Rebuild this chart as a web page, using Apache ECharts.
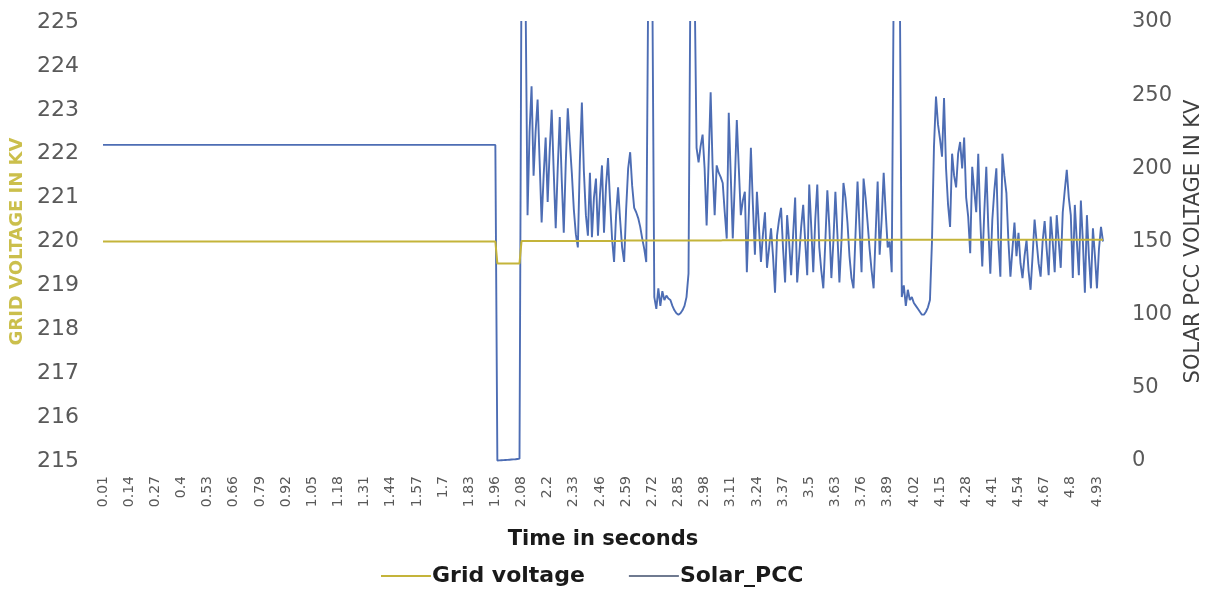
<!DOCTYPE html>
<html>
<head>
<meta charset="utf-8">
<script src="https://cdn.jsdelivr.net/npm/echarts@6/dist/echarts.min.js"></script>
<style>
html,body{margin:0;padding:0;background:#fff;}
#chart{width:1215px;height:592px;}
</style>
</head>
<body>
<div id="chart"></div>
<script>
// Time categories (seconds), as listed on the sheet (two repeated stamps near the fault)
var timeValues = [
0.01,0.02,0.03,0.04,0.05,0.06,0.07,0.08,0.09,0.1,
0.11,0.12,0.13,0.14,0.15,0.16,0.17,0.18,0.19,0.2,
0.21,0.22,0.23,0.24,0.25,0.26,0.27,0.28,0.29,0.3,
0.31,0.32,0.33,0.34,0.35,0.36,0.37,0.38,0.39,0.4,
0.41,0.42,0.43,0.44,0.45,0.46,0.47,0.48,0.49,0.5,
0.51,0.52,0.53,0.54,0.55,0.56,0.57,0.58,0.59,0.6,
0.61,0.62,0.63,0.64,0.65,0.66,0.67,0.68,0.69,0.7,
0.71,0.72,0.73,0.74,0.75,0.76,0.77,0.78,0.79,0.8,
0.81,0.82,0.83,0.84,0.85,0.86,0.87,0.88,0.89,0.9,
0.91,0.92,0.93,0.94,0.95,0.96,0.97,0.98,0.99,1,
1.01,1.02,1.03,1.04,1.05,1.06,1.07,1.08,1.09,1.1,
1.11,1.12,1.13,1.14,1.15,1.16,1.17,1.18,1.19,1.2,
1.21,1.22,1.23,1.24,1.25,1.26,1.27,1.28,1.29,1.3,
1.31,1.32,1.33,1.34,1.35,1.36,1.37,1.38,1.39,1.4,
1.41,1.42,1.43,1.44,1.45,1.46,1.47,1.48,1.49,1.5,
1.51,1.52,1.53,1.54,1.55,1.56,1.57,1.58,1.59,1.6,
1.61,1.62,1.63,1.64,1.65,1.66,1.67,1.68,1.69,1.7,
1.71,1.72,1.73,1.74,1.75,1.76,1.77,1.78,1.79,1.8,
1.81,1.82,1.83,1.84,1.85,1.86,1.87,1.88,1.89,1.9,
1.91,1.92,1.93,1.94,1.95,1.96,1.97,1.98,1.99,2,
2,2.01,2.02,2.03,2.04,2.05,2.06,2.07,2.08,2.09,
2.1,2.1,2.11,2.12,2.13,2.14,2.15,2.16,2.17,2.18,
2.19,2.2,2.21,2.22,2.23,2.24,2.25,2.26,2.27,2.28,
2.29,2.3,2.31,2.32,2.33,2.34,2.35,2.36,2.37,2.38,
2.39,2.4,2.41,2.42,2.43,2.44,2.45,2.46,2.47,2.48,
2.49,2.5,2.51,2.52,2.53,2.54,2.55,2.56,2.57,2.58,
2.59,2.6,2.61,2.62,2.63,2.64,2.65,2.66,2.67,2.68,
2.69,2.7,2.71,2.72,2.73,2.74,2.75,2.76,2.77,2.78,
2.79,2.8,2.81,2.82,2.83,2.84,2.85,2.86,2.87,2.88,
2.89,2.9,2.91,2.92,2.93,2.94,2.95,2.96,2.97,2.98,
2.99,3,3.01,3.02,3.03,3.04,3.05,3.06,3.07,3.08,
3.09,3.1,3.11,3.12,3.13,3.14,3.15,3.16,3.17,3.18,
3.19,3.2,3.21,3.22,3.23,3.24,3.25,3.26,3.27,3.28,
3.29,3.3,3.31,3.32,3.33,3.34,3.35,3.36,3.37,3.38,
3.39,3.4,3.41,3.42,3.43,3.44,3.45,3.46,3.47,3.48,
3.49,3.5,3.51,3.52,3.53,3.54,3.55,3.56,3.57,3.58,
3.59,3.6,3.61,3.62,3.63,3.64,3.65,3.66,3.67,3.68,
3.69,3.7,3.71,3.72,3.73,3.74,3.75,3.76,3.77,3.78,
3.79,3.8,3.81,3.82,3.83,3.84,3.85,3.86,3.87,3.88,
3.89,3.9,3.91,3.92,3.93,3.94,3.95,3.96,3.97,3.98,
3.99,4,4.01,4.02,4.03,4.04,4.05,4.06,4.07,4.08,
4.09,4.1,4.11,4.12,4.13,4.14,4.15,4.16,4.17,4.18,
4.19,4.2,4.21,4.22,4.23,4.24,4.25,4.26,4.27,4.28,
4.29,4.3,4.31,4.32,4.33,4.34,4.35,4.36,4.37,4.38,
4.39,4.4,4.41,4.42,4.43,4.44,4.45,4.46,4.47,4.48,
4.49,4.5,4.51,4.52,4.53,4.54,4.55,4.56,4.57,4.58,
4.59,4.6,4.61,4.62,4.63,4.64,4.65,4.66,4.67,4.68,
4.69,4.7,4.71,4.72,4.73,4.74,4.75,4.76,4.77,4.78,
4.79,4.8,4.81,4.82,4.83,4.84,4.85,4.86,4.87,4.88,
4.89,4.9,4.91,4.92,4.93,4.94,4.95,4.96
];

// Grid voltage (kV, left axis)
var gridVoltage = [
220,220,220,220,220,220,220,220,220,220,220,220,220,220,
220,220,220,220,220,220,220,220,220,220,220,220,220,220,
220,220,220,220,220,220,220,220,220,220,220,220,220,220,
220,220,220,220,220,220,220,220,220,220,220,220,220,220,
220,220,220,220,220,220,220,220,220,220,220,220,220,220,
220,220,220,220,220,220,220,220,220,220,220,220,220,220,
220,220,220,220,220,220,220,220,220,220,220,220,220,220,
220,220,220,220,220,220,220,220,220,220,220,220,220,220,
220,220,220,220,220,220,220,220,220,220,220,220,220,220,
220,220,220,220,220,220,220,220,220,220,220,220,220,220,
220,220,220,220,220,220,220,220,220,220,220,220,220,220,
220,220,220,220,220,220,220,220,220,220,220,220,220,220,
220,220,220,220,220,220,220,220,220,220,220,220,220,220,
220,220,220,220,220,220,220,220,220,220,220,220,220,220,
219.5,219.5,219.5,219.5,219.5,219.5,219.5,219.5,219.5,219.5,219.5,219.5,
220.01,220.01,220.01,220.01,220.01,220.01,220.01,220.01,220.01,220.01,
220.01,220.01,220.01,220.01,220.01,220.01,220.01,220.01,220.01,220.01,
220.01,220.01,220.01,220.01,220.01,220.01,220.01,220.01,220.01,220.01,
220.01,220.01,220.01,220.01,220.01,220.01,220.01,220.01,220.01,220.01,
220.01,220.01,220.01,220.01,220.01,220.01,220.01,220.01,220.01,220.01,
220.02,220.02,220.02,220.02,220.02,220.02,220.02,220.02,220.02,220.02,
220.02,220.02,220.02,220.02,220.02,220.02,220.02,220.02,220.02,220.02,
220.02,220.02,220.02,220.02,220.02,220.02,220.02,220.02,220.02,220.02,
220.02,220.02,220.02,220.02,220.02,220.02,220.02,220.02,220.02,220.02,
220.02,220.02,220.02,220.02,220.02,220.02,220.02,220.02,220.02,220.02,
220.03,220.03,220.03,220.03,220.03,220.03,220.03,220.03,220.03,220.03,
220.03,220.03,220.03,220.03,220.03,220.03,220.03,220.03,220.03,220.03,
220.03,220.03,220.03,220.03,220.03,220.03,220.03,220.03,220.03,220.03,
220.03,220.03,220.03,220.03,220.03,220.03,220.03,220.03,220.03,220.03,
220.03,220.03,220.03,220.03,220.03,220.03,220.03,220.03,220.03,220.03,
220.03,220.03,220.03,220.03,220.03,220.03,220.03,220.03,220.03,220.03,
220.04,220.04,220.04,220.04,220.04,220.04,220.04,220.04,220.04,220.04,
220.04,220.04,220.04,220.04,220.04,220.04,220.04,220.04,220.04,220.04,
220.04,220.04,220.04,220.04,220.04,220.04,220.04,220.04,220.04,220.04,
220.04,220.04,220.04,220.04,220.04,220.04,220.04,220.04,220.04,220.04,
220.04,220.04,220.04,220.04,220.04,220.04,220.04,220.04,220.04,220.04,
220.04,220.04,220.04,220.04,220.04,220.04,220.04,220.04,220.04,220.04,
220.04,220.04,220.04,220.04,220.04,220.04,220.04,220.04,220.04,220.04,
220.04,220.04,220.04,220.04,220.04,220.04,220.04,220.04,220.04,220.04,
220.04,220.04,220.04,220.04,220.04,220.04,220.04,220.04,220.04,220.04,
220.04,220.04,220.04,220.04,220.04,220.04,220.04,220.04,220.04,220.04,
220.04,220.04,220.04,220.04,220.04,220.04,220.04,220.04,220.04,220.04,
220.04,220.04,220.04,220.04,220.04,220.04,220.04,220.04,220.04,220.04,
220.04,220.04,220.04,220.04,220.04,220.04,220.04,220.04,220.04,220.04
];

// Solar PCC voltage (kV, right axis)
var solarPCC = [
216,216,216,216,216,216,216,216,216,216,216,216,216,216,
216,216,216,216,216,216,216,216,216,216,216,216,216,216,
216,216,216,216,216,216,216,216,216,216,216,216,216,216,
216,216,216,216,216,216,216,216,216,216,216,216,216,216,
216,216,216,216,216,216,216,216,216,216,216,216,216,216,
216,216,216,216,216,216,216,216,216,216,216,216,216,216,
216,216,216,216,216,216,216,216,216,216,216,216,216,216,
216,216,216,216,216,216,216,216,216,216,216,216,216,216,
216,216,216,216,216,216,216,216,216,216,216,216,216,216,
216,216,216,216,216,216,216,216,216,216,216,216,216,216,
216,216,216,216,216,216,216,216,216,216,216,216,216,216,
216,216,216,216,216,216,216,216,216,216,216,216,216,216,
216,216,216,216,216,216,216,216,216,216,216,216,216,216,
216,216,216,216,216,216,216,216,216,216,216,216,216,216,
0.3,0.4,0.5,0.6,0.7,0.8,0.9,1,1.1,1.2,1.4,1.6,
340,345,320,168,225,256,195,225,247,205,
163,195,221,177,212,240,198,159,200,235,
192,156,204,241,218,197,172,155,146,205,
245,198,168,154,197,153,180,193,154,182,
202,156,188,207,178,152,136,168,187,165,
146,136,172,200,211,188,173,170,166,160,
152,145,136,330,345,330,112,104,118,106,
116,110,113,111,110,106,103,101,100,101,
103,106,112,128,340,345,330,214,204,215,
223,200,161,205,252,200,168,202,197,194,
190,170,152,238,195,152,190,233,200,168,
178,184,129,170,214,175,141,184,160,136,
155,170,132,145,159,140,115,154,165,173,
145,122,168,150,127,155,180,122,140,160,
175,150,127,189,160,129,165,189,146,130,
118,150,185,160,125,150,184,155,122,150,
190,180,163,140,125,118,155,191,160,129,
193,180,163,145,130,118,155,191,141,165,
197,170,146,150,129,330,345,345,330,112,
120,106,117,110,112,108,106,104,102,100,
100,102,105,110,150,215,249,230,220,208,
248,200,175,160,210,195,187,210,218,200,
221,180,167,142,201,185,170,210,165,133,
170,201,160,128,165,185,200,150,126,210,
195,183,150,126,145,163,140,156,135,125,
140,151,130,117,140,165,150,135,126,150,
164,145,127,167,150,129,168,150,132,170,
185,199,180,168,125,175,150,127,178,150,
115,168,140,118,159,140,118,145,160,150
];

var categories = timeValues.map(function (t) { return String(t); });
var leftTicks = { min: 215, max: 225, step: 1 };
var rightTicks = { min: 0, max: 300, step: 50 };

var FONT = 'DejaVu Sans';
var chart = echarts.init(document.getElementById('chart'), null, { renderer: 'canvas' });
chart.setOption({
  backgroundColor: '#ffffff',
  animation: false,
  textStyle: { fontFamily: FONT },
  grid: { left: 102, right: 111, top: 22, bottom: 131, containLabel: false },
  legend: {
    bottom: 0,
    left: 376,
    icon: 'rect',
    itemWidth: 50,
    itemHeight: 2,
    itemGap: 44,
    textStyle: { fontFamily: FONT, fontSize: 22, fontWeight: 'bold', color: '#1a1a1a', padding: [0, 0, 0, -4] },
    data: [
      { name: 'Grid voltage', itemStyle: { color: '#c4b43a' } },
      { name: 'Solar_PCC', itemStyle: { color: '#6f7a90' } }
    ]
  },
  xAxis: {
    type: 'category',
    data: categories,
    boundaryGap: true,
    axisLine: { show: false },
    axisTick: { show: false },
    splitLine: { show: false },
    axisLabel: { interval: 12, rotate: 90, fontSize: 14, color: '#595959', margin: 15, fontFamily: FONT },
    name: 'Time in seconds',
    nameLocation: 'middle',
    nameGap: 68,
    nameTextStyle: { fontFamily: FONT, fontSize: 21, fontWeight: 'bold', color: '#1a1a1a' }
  },
  yAxis: [
    {
      type: 'value',
      min: leftTicks.min, max: leftTicks.max, interval: leftTicks.step,
      position: 'left',
      axisLine: { show: false }, axisTick: { show: false }, splitLine: { show: false },
      axisLabel: { fontSize: 22, color: '#595959', margin: 23, fontFamily: FONT },
      name: 'GRID VOLTAGE IN KV',
      nameLocation: 'middle',
      nameRotate: 90,
      nameGap: 73,
      nameTextStyle: { fontFamily: FONT, fontSize: 18, fontWeight: 'bold', color: '#cbbf4c' }
    },
    {
      type: 'value',
      min: rightTicks.min, max: rightTicks.max, interval: rightTicks.step,
      position: 'right',
      axisLine: { show: false }, axisTick: { show: false }, splitLine: { show: false },
      axisLabel: { fontSize: 21, color: '#595959', margin: 28, fontFamily: FONT },
      name: 'SOLAR PCC VOLTAGE IN KV',
      nameLocation: 'middle',
      nameRotate: 90,
      nameGap: 75,
      nameTextStyle: { fontFamily: FONT, fontSize: 21, color: '#404040' }
    }
  ],
  series: [
    {
      name: 'Grid voltage',
      type: 'line',
      yAxisIndex: 0,
      data: gridVoltage,
      showSymbol: false,
      symbol: 'none',
      lineStyle: { color: '#c4b43a', width: 2 },
      itemStyle: { color: '#c4b43a' },
      z: 3
    },
    {
      name: 'Solar_PCC',
      type: 'line',
      yAxisIndex: 1,
      data: solarPCC,
      showSymbol: false,
      symbol: 'none',
      clip: true,
      lineStyle: { color: '#4d6db4', width: 1.9 },
      itemStyle: { color: '#6f7a90' },
      z: 2
    }
  ]
});
</script>
</body>
</html>
